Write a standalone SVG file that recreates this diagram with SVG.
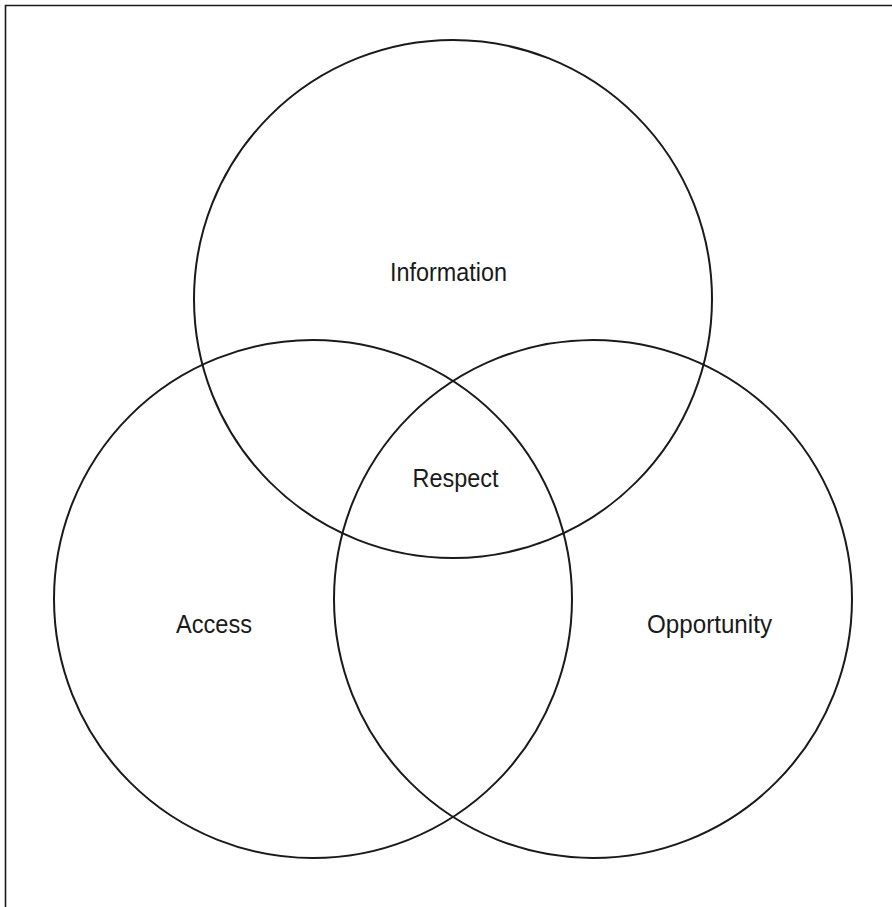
<svg xmlns="http://www.w3.org/2000/svg" width="892" height="907" viewBox="0 0 892 907">
  <style>
    .ring { fill: none; stroke: #1a1a1a; stroke-width: 2; }
    .frame { fill: none; stroke: #1a1a1a; stroke-width: 1.6; }
    .label { font-family: "Liberation Sans", Arial, sans-serif; font-size: 26px; fill: #1a1a1a; text-anchor: middle; }
  </style>
  <rect width="892" height="907" fill="#ffffff"/>
  <path class="frame" d="M5.5,907 V5.5 H892"/>
  <g id="information">
    <circle class="ring" cx="453" cy="299" r="259"/>
    <text class="label" x="448.5" y="281" textLength="117" lengthAdjust="spacingAndGlyphs">Information</text>
  </g>
  <g id="access">
    <circle class="ring" cx="313" cy="599" r="259"/>
    <text class="label" x="214" y="633" textLength="76" lengthAdjust="spacingAndGlyphs">Access</text>
  </g>
  <g id="opportunity">
    <circle class="ring" cx="593" cy="599" r="259"/>
    <text class="label" x="709.5" y="633" textLength="125" lengthAdjust="spacingAndGlyphs">Opportunity</text>
  </g>
  <g id="respect">
    <text class="label" x="455.5" y="486.5" textLength="86" lengthAdjust="spacingAndGlyphs">Respect</text>
  </g>
  <g id="connectors"/>
</svg>
